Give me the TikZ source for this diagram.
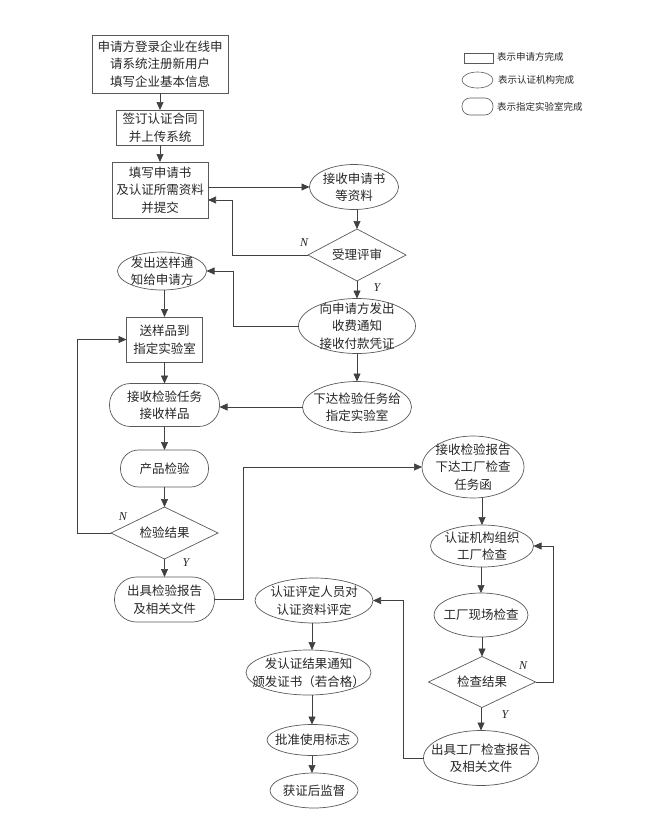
\documentclass[tikz,border=0pt]{standalone}
\usepackage{fontspec}
\newfontfamily\cjk{Noto Sans CJK SC}
\newfontfamily\tms{Liberation Serif}
\usetikzlibrary{shapes.geometric,arrows.meta}
\newcommand\ftxt[1]{\makebox[0pt]{\raisebox{-0.35em}[0pt][0pt]{\begin{tabular}{@{}c@{}}#1\end{tabular}}}}
\tikzset{
 nbase/.style={draw=black!65, line width=0.7pt, inner sep=0pt, outer sep=0pt, font=\cjk\fontsize{12.5}{17.5}\selectfont, text=black!85},
 appl/.style={nbase, rectangle},
 cert/.style={nbase, ellipse},
 lab/.style={nbase, rectangle, rounded corners=#1},
 lab/.default=20pt,
 dec/.style={nbase, diamond},
 arr/.style={draw=black!75, line width=0.7pt, -{Triangle[length=8pt,width=7pt]}},
 yn/.style={font=\tms\itshape\fontsize{12}{14}\selectfont, text=black!85},
 leg/.style={font=\cjk\fontsize{9.5}{11}\selectfont, text=black!85, inner sep=0pt}
}
\begin{document}
\begin{tikzpicture}[x=1pt,y=-1pt]
\useasboundingbox (0,0) rectangle (645,822);
% applicant
\node[appl, minimum width=136pt, minimum height=58pt] (B1) at (160,64) {\ftxt{申请方登录企业在线申\\请系统注册新用户\\填写企业基本信息}};
\node[appl, minimum width=87pt, minimum height=35pt] (B2) at (160,127.5) {\ftxt{签订认证合同\\并上传系统}};
\node[appl, minimum width=96pt, minimum height=56pt] (B3) at (160,190) {\ftxt{填写申请书\\及认证所需资料\\并提交}};
\node[cert, minimum width=89pt, minimum height=45pt] (E1) at (354,187) {\ftxt{接收申请书\\等资料}};
\node[dec, minimum width=98pt, minimum height=52pt] (D1) at (357,255) {\ftxt{受理评审}};
\node[cert, minimum width=89pt, minimum height=38pt] (E2) at (162,271) {\ftxt{发出送样通\\知给申请方}};
\node[cert, minimum width=117pt, minimum height=55pt] (E3) at (357,326) {\ftxt{向申请方发出\\收费通知\\接收付款凭证}};
\node[appl, minimum width=76pt, minimum height=45pt] (B4) at (164.5,339.5) {\ftxt{送样品到\\指定实验室}};
\node[lab=21pt, minimum width=110pt, minimum height=43pt] (L1) at (164.5,405) {\ftxt{接收检验任务\\接收样品}};
\node[cert, minimum width=109pt, minimum height=51pt] (E4) at (357,407) {\ftxt{下达检验任务给\\指定实验室}};
\node[lab=18pt, minimum width=88pt, minimum height=37pt] (L2) at (164.5,468.5) {\ftxt{产品检验}};
\node[dec, minimum width=107pt, minimum height=52pt] (D2) at (164.5,533) {\ftxt{检验结果}};
\node[lab=22pt, minimum width=100pt, minimum height=45pt] (L3) at (164.5,599.5) {\ftxt{出具检验报告\\及相关文件}};
\node[cert, minimum width=102pt, minimum height=62pt] (E5) at (473,467) {\ftxt{接收检验报告\\下达工厂检查\\任务函}};
\node[cert, minimum width=103pt, minimum height=42pt] (E6) at (482,546) {\ftxt{认证机构组织\\工厂检查}};
\node[cert, minimum width=94pt, minimum height=44pt] (E7) at (481,615) {\ftxt{工厂现场检查}};
\node[dec, minimum width=107pt, minimum height=51pt] (D3) at (482,682) {\ftxt{检查结果}};
\node[cert, minimum width=115pt, minimum height=55pt] (E8) at (481,758) {\ftxt{出具工厂检查报告\\及相关文件}};
\node[cert, minimum width=118pt, minimum height=45pt] (E9) at (314,600.5) {\ftxt{认证评定人员对\\认证资料评定}};
\node[cert, minimum width=125pt, minimum height=45pt] (E10) at (308.5,672.5) {\ftxt{发认证结果通知\\颁发证书（若合格）}};
\node[cert, minimum width=91pt, minimum height=31pt] (E11) at (312.5,740) {\ftxt{批准使用标志}};
\node[cert, minimum width=88pt, minimum height=35pt] (E12) at (314,790.5) {\ftxt{获证后监督}};
% legend
\node[appl, line width=0.6pt, minimum width=29pt, minimum height=10pt] (LG1) at (478.5,58) {};
\node[leg, anchor=west] (LT1) at (497,57) {表示申请方完成};
\node[cert, line width=0.6pt, minimum width=31pt, minimum height=16pt] (LG2) at (477.5,80) {};
\node[leg, anchor=west] (LT2) at (498,80) {表示认证机构完成};
\node[lab=8pt, line width=0.6pt, minimum width=31pt, minimum height=17pt] (LG3) at (477.5,106.5) {};
\node[leg, anchor=west] (LT3) at (497,106.5) {表示指定实验室完成};
% helper coordinates
\coordinate (c1) at (232,200);
\coordinate (c2) at (233,0);
\coordinate (c3) at (77,0);
\coordinate (c4) at (243,0);
\coordinate (c5) at (553,0);
\coordinate (c6) at (403,0);
\coordinate (c7) at (312,0);
% connectors
\draw[arr] (B1) -- (B2);
\draw[arr] (B2) -- (B3);
\draw[arr] (B3.east |- E1.west) -- (E1.west);
\draw[arr] (D1.north |- E1.south) -- (D1.north);
\draw[arr] (D1.west) -| (c1) -- (c1 -| B3.east);
\node[yn] (N1) at (304,243) {N};
\draw[arr] (D1) -- (E3);
\node[yn] (Y1) at (377,288) {Y};
\draw[arr] (E3.west) -| (c2 |- E2.east) -- (E2.east);
\draw[arr] (B4.north |- E2.south) -- (B4.north);
\draw[arr] (B4) -- (L1);
\draw[arr] (E3) -- (E4);
\draw[arr] (E4.west) -- (E4.west -| L1.east);
\draw[arr] (L1) -- (L2);
\draw[arr] (L2) -- (D2);
\draw[arr] (D2.west) -| (c3 |- B4.west) -- (B4.west);
\node[yn] (N2) at (123,517) {N};
\draw[arr] (D2) -- (L3);
\node[yn] (Y2) at (186,563) {Y};
\draw[arr] (L3.east) -| (c4 |- E5.west) -- (E5.west);
\draw[arr] (E5.south -| E6.north) -- (E6.north);
\draw[arr] (E6.south -| E7.north) -- (E7.north);
\draw[arr] (E7.south -| D3.north) -- (D3.north);
\draw[arr] (D3.east) -| (c5 |- E6.east) -- (E6.east);
\node[yn] (N3) at (523,666) {N};
\draw[arr] (D3.south -| E8.north) -- (E8.north);
\node[yn] (Y3) at (505,715) {Y};
\draw[arr] (E8.west) -| (c6 |- E9.east) -- (E9.east);
\draw[arr] (E9.south -| c7) -- (E10.north -| c7);
\draw[arr] (E10.south -| c7) -- (E11.north -| c7);
\draw[arr] (E11.south -| c7) -- (E12.north -| c7);
\end{tikzpicture}
\end{document}
